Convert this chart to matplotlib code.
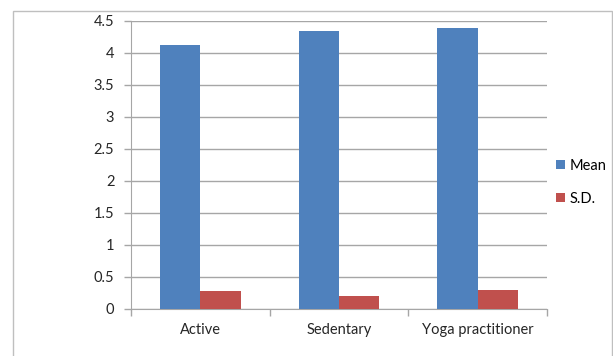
import numpy as np
import matplotlib.pyplot as plt
from matplotlib.patches import Rectangle

plt.rcParams['font.family'] = ['Lato', 'DejaVu Sans']

# data
groups = ['Active', 'Sedentary', 'Yoga practitioner']
mean_vals = [4.13, 4.35, 4.39]
sd_vals = [0.28, 0.21, 0.30]
yticks = [0, 0.5, 1, 1.5, 2, 2.5, 3, 3.5, 4, 4.5]

fig = plt.figure(figsize=(6.13, 3.56), dpi=100)
# outer chart frame
fig.patches.append(Rectangle((13 / 613, -0.01), 599 / 613, 1 - 11 / 356 + 0.01,
                             transform=fig.transFigure, fill=False,
                             edgecolor='#bfbfbf', linewidth=1.0))

ax = fig.add_axes([131 / 613, 47 / 356, 416 / 613, 288 / 356])
x = np.arange(len(groups))
w = 0.29
ax.bar(x - w / 2, mean_vals, w, color='#4f81bd', label='Mean', zorder=3)
ax.bar(x + w / 2, sd_vals, w, color='#c0504d', label='S.D.', zorder=3)

ax.set_xlim(-0.5, 2.5)
ax.set_ylim(0, 4.5)
ax.set_yticks(yticks)
ax.set_yticklabels(['0', '0.5', '1', '1.5', '2', '2.5', '3', '3.5', '4', '4.5'])
ax.yaxis.grid(True, color='#a6a6a6', linewidth=1.0, zorder=0)

# category ticks between groups
ax.set_xticks(x)
ax.set_xticklabels(groups)
ax.tick_params(axis='x', length=0, labelsize=10.5, colors='#262626', pad=10)
ax.set_xticks([-0.5, 0.5, 1.5, 2.5], minor=True)
ax.tick_params(axis='x', which='minor', length=5, color='#a6a6a6', width=1)
ax.tick_params(axis='y', length=5, color='#a6a6a6', width=1, labelsize=10.5,
               pad=7)
ax.tick_params(axis='y', labelcolor='#262626')
ax.tick_params(axis='x', labelcolor='#262626')

for s in ['top', 'right']:
    ax.spines[s].set_visible(False)
ax.spines['left'].set_color('#a6a6a6')
ax.spines['bottom'].set_color('#a6a6a6')

ax.legend(loc='center left', bbox_to_anchor=(1.0, 0.44), frameon=False,
          fontsize=10.5, handlelength=0.6, handleheight=0.6, handletextpad=0.35,
          labelspacing=1.3, borderaxespad=0.2)

fig.savefig('out.png', dpi=100)
